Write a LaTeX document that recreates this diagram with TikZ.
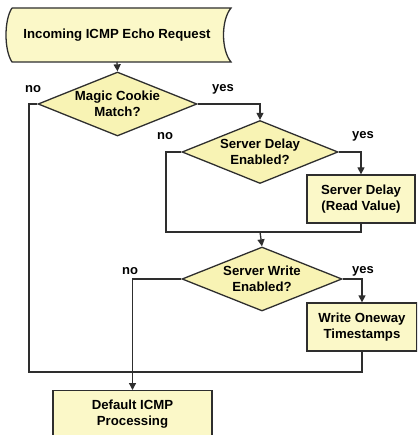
\documentclass[tikz,border=0pt]{standalone}
\usepackage{fontspec}
\setmainfont{Liberation Sans}
\usetikzlibrary{shapes.geometric,arrows.meta}
\definecolor{boxfill}{HTML}{FBF8C8}
\definecolor{dfill}{HTML}{F8F3B4}
\definecolor{lineclr}{HTML}{2E2E2E}
\tikzset{
  txt/.style={font=\bfseries\fontsize{13.2}{16.5}\selectfont, align=center, text=black, inner sep=0pt},
  procbox/.style={draw=lineclr, line width=1.3pt, fill=boxfill, rectangle, inner sep=0pt},
  decision/.style={draw=lineclr, line width=1.3pt, fill=dfill, diamond, inner sep=0pt},
  lbl/.style={font=\bfseries\fontsize{13}{14}\selectfont, text=black, inner sep=0pt},
  conn/.style={draw=lineclr, line width=1.3pt},
  arr/.style={conn, -{Triangle[length=7pt,width=7pt]}},
}
\begin{document}
\begin{tikzpicture}[x=1pt,y=-1pt]
\clip (0,0) rectangle (417,435);
\fill[white] (0,0) rectangle (417,435);
% start terminal (stored data shape)
\draw[conn, fill=boxfill] (12,8) -- (231,8) .. controls (221,20) and (221,50) .. (231,62) -- (12,62) .. controls (4,50) and (4,20) .. (12,8);
\node[txt] (start) at (117,35) {Incoming ICMP Echo Request};
\coordinate (startb) at (117,62);
% decisions
\node[decision, minimum width=159pt, minimum height=64pt] (d1) at (117.5,104) {};
\node[txt] (d1t) at (d1) {Magic Cookie\\Match?};
\node[decision, minimum width=156pt, minimum height=63pt] (d2) at (260,152) {};
\node[txt] (d2t) at (d2) {Server Delay\\Enabled?};
\node[decision, minimum width=160pt, minimum height=64pt] (d3) at (262,279) {};
\node[txt] (d3t) at (d3) {Server Write\\Enabled?};
% process boxes
\node[procbox, minimum width=108pt, minimum height=48pt] (p1) at (361,199) {};
\node[txt] (p1t) at (p1) {Server Delay\\(Read Value)};
\node[procbox, minimum width=110pt, minimum height=48pt] (p2) at (362,327) {};
\node[txt] (p2t) at (p2) {Write Oneway\\Timestamps};
\node[procbox, minimum width=159pt, minimum height=70pt, anchor=north] (p3) at (132.5,390) {};
\node[txt] (p3t) at (132.5,414) {Default ICMP\\Processing};
% labels
\node[lbl] (n1) at (33,89) {no};
\node[lbl] (y1) at (223,89) {yes};
\node[lbl] (n2) at (165,136) {no};
\node[lbl] (y2) at (363,136) {yes};
\node[lbl] (n3) at (130,271) {no};
\node[lbl] (y3) at (363,271) {yes};
% coordinates
\coordinate (m2) at (260,232);
% connectors
\draw[arr] (startb) -- (d1.north);
\draw[arr] (d1.east) -| (d2.north);
\draw[arr] (d2.east) -| (p1.north);
\draw[conn] (d2.west) -| (166,232) -| (p1.south);
\draw[arr] (m2) -- (d3.north);
\draw[arr] (d3.east) -| (p2.north);
\draw[conn] (p2.south) |- (29,372) |- (d1.west);
\draw[arr] (d3.west) -| (p3.north);
\end{tikzpicture}
\end{document}
